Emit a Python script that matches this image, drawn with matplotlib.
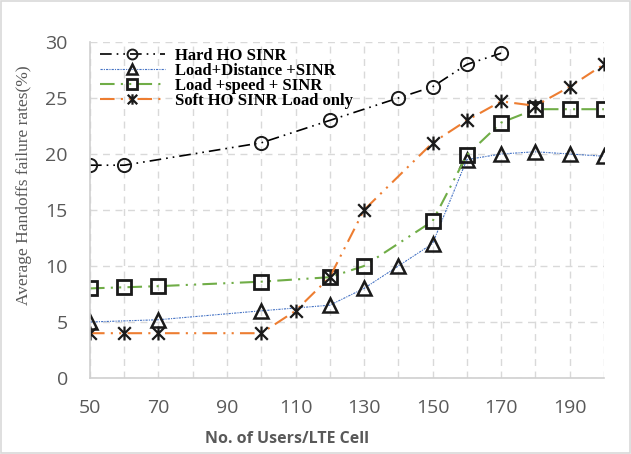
import matplotlib
matplotlib.use('Agg')
import matplotlib.pyplot as plt
from matplotlib.path import Path
from matplotlib.patches import Rectangle

# Users per LTE cell and failure rates (%) for each scheme
hard_x = [50, 60, 100, 120, 140, 150, 160, 170]
hard_y = [19, 19, 21, 23, 25, 26, 28, 29]

dist_x = [50, 70, 100, 120, 130, 140, 150, 160, 170, 180, 190, 200]
dist_y = [5, 5.2, 6, 6.5, 8, 10, 12, 19.5, 20, 20.2, 20, 19.8]

speed_x = [50, 60, 70, 100, 120, 130, 150, 160, 170, 180, 190, 200]
speed_y = [8, 8.1, 8.2, 8.6, 9, 10, 14, 19.9, 22.8, 24, 24, 24]

soft_x = [50, 60, 70, 100, 110, 120, 130, 150, 160, 170, 180, 190, 200]
soft_y = [4, 4, 4, 4, 6, 9, 15, 21, 23, 24.7, 24.3, 26, 28]

x_ticks = [50, 70, 90, 110, 130, 150, 170, 190]
y_ticks = [0, 5, 10, 15, 20, 25, 30]

labels = ['Hard HO SINR', 'Load+Distance +SINR', 'Load +speed + SINR',
          'Soft HO SINR Load only']

# star marker: an X with a vertical bar through it
star = Path([(-1, -1), (1, 1), (-1, 1), (1, -1), (0, -1.1), (0, 1.1)],
            [Path.MOVETO, Path.LINETO, Path.MOVETO, Path.LINETO,
             Path.MOVETO, Path.LINETO])

fig = plt.figure(figsize=(6.31, 4.54), dpi=100)
ax = fig.add_axes([0.1426, 0.1674, 0.8144, 0.7401])

dashdotdot = (0, (7, 3, 1, 3, 1, 3))
edge = '#1a1a1a'
ax.plot(hard_x, hard_y, color='black', linestyle=dashdotdot, linewidth=1.2,
        marker='o', markersize=9.5, markerfacecolor='none',
        markeredgecolor=edge, markeredgewidth=1.4, label=labels[0])
ax.plot(dist_x, dist_y, color='#4472c4', linestyle=(0, (2, 1, 1, 1)), linewidth=0.8,
        marker='^', markersize=10, markerfacecolor='none',
        markeredgecolor=edge, markeredgewidth=1.8, label=labels[1])
ax.plot(speed_x, speed_y, color='#70ad47', linestyle=dashdotdot, linewidth=1.5,
        marker='s', markersize=10.5, markerfacecolor='none',
        markeredgecolor=edge, markeredgewidth=2.0, label=labels[2])
ax.plot(soft_x, soft_y, color='#ed7d31', linestyle=dashdotdot, linewidth=1.5,
        marker=star, markersize=10, markerfacecolor='none',
        markeredgecolor=edge, markeredgewidth=1.6, label=labels[3])

ax.set_xlim(50, 200)
ax.set_ylim(0, 30)
ax.set_xticks(x_ticks)
ax.set_yticks(y_ticks)
ax.set_xticks(range(50, 201, 10), minor=True)
ax.grid(True, which='both', axis='x', color='#d9d9d9', linestyle=(0, (5, 4)), linewidth=1)
ax.grid(True, which='major', axis='y', color='#d9d9d9', linestyle=(0, (5, 4)), linewidth=1)
ax.set_axisbelow(True)

for side in ['top', 'right']:
    ax.spines[side].set_visible(False)
for side in ['left', 'bottom']:
    ax.spines[side].set_color('#d0d0d0')
    ax.spines[side].set_linewidth(1.2)

ax.tick_params(axis='both', which='both', length=0, labelsize=14,
               labelcolor='#595959')
ax.tick_params(axis='x', pad=15)
ax.tick_params(axis='y', pad=16)
for lab in ax.get_xticklabels() + ax.get_yticklabels():
    lab.set_family('Open Sans')

ax.set_xlabel('No. of Users/LTE Cell', fontsize=11.5, fontweight='bold',
              color='#595959', family='Open Sans')
ax.xaxis.set_label_coords(0.383, -0.158)
ax.set_ylabel('Average Handoffs failure rates(%)', fontsize=12.5,
              color='#595959', family='Liberation Serif')
ax.yaxis.set_label_coords(-0.113, 0.574)

leg = ax.legend(loc='upper left', bbox_to_anchor=(0.0, 1.012), frameon=False,
                prop={'family': 'Liberation Serif', 'weight': 'bold', 'size': 12},
                handlelength=3.9, handletextpad=0.6, labelspacing=-0.06,
                borderaxespad=0.2, markerscale=0.75)

# light frame around the whole figure
fig.patches.append(Rectangle((0.002, 0.002), 0.996, 0.996, transform=fig.transFigure,
                             fill=False, edgecolor='#d9d9d9', linewidth=1.2))

fig.savefig('out.png', dpi=100)
